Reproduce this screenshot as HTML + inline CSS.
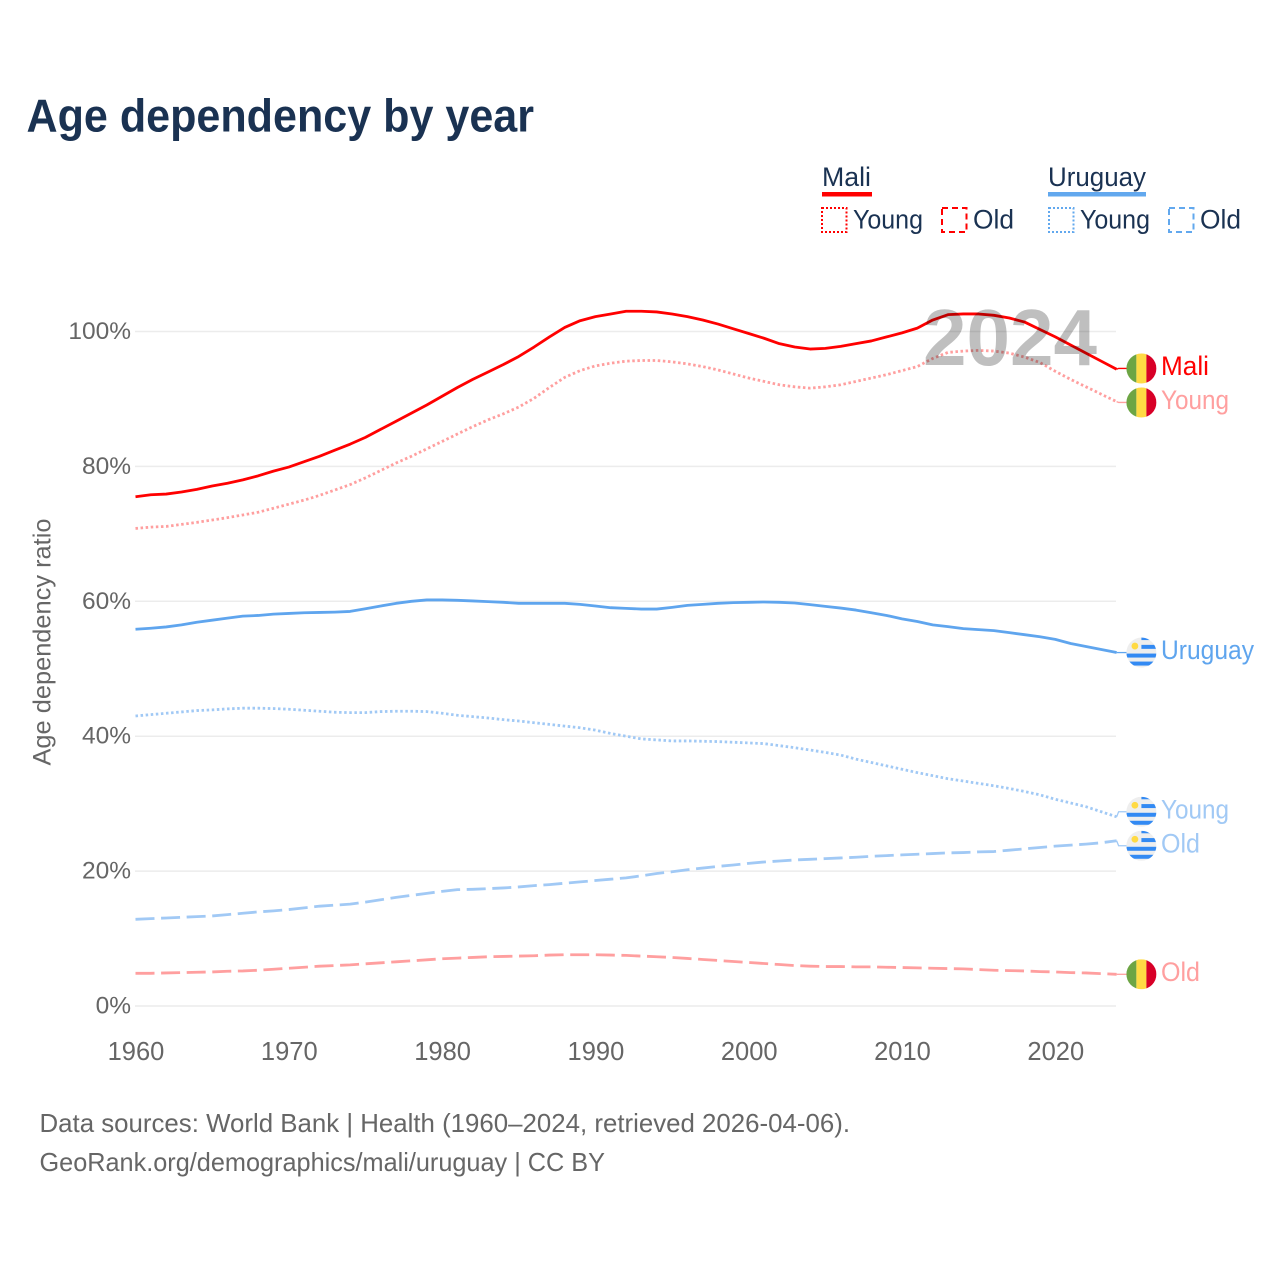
<!DOCTYPE html>
<html lang="en">
<head>
<meta charset="utf-8">
<title>Age dependency by year</title>
<style>
  html, body { margin: 0; padding: 0; background: #fff; }
  svg { display: block; font-family: "Liberation Sans", sans-serif; }
</style>
</head>
<body>
<svg id="chart" xmlns="http://www.w3.org/2000/svg" width="1280" height="1280" viewBox="0 0 1280 1280">
  <defs>
    <clipPath id="flag-clip"><circle cx="0" cy="0" r="15"></circle></clipPath>
  </defs>
  <rect x="0" y="0" width="1280" height="1280" fill="#fff"></rect>

  <text x="26.5" y="131.5" font-size="46" font-weight="700" fill="#1a3252" textLength="507.5" lengthAdjust="spacingAndGlyphs">Age dependency by year</text>

  <g font-size="27" fill="#1a3252">
    <text x="822" y="186" textLength="49" lengthAdjust="spacingAndGlyphs">Mali</text>
    <rect x="822" y="192" width="50" height="4.5" fill="#ff0000"></rect>
    <rect x="822" y="208" width="24.5" height="24" fill="none" stroke="#ff0000" stroke-width="2" stroke-dasharray="2 2"></rect>
    <text x="853" y="228.5" textLength="70" lengthAdjust="spacingAndGlyphs">Young</text>
    <rect x="942" y="208" width="24.5" height="24" fill="none" stroke="#ff0000" stroke-width="2" stroke-dasharray="6 4"></rect>
    <text x="973" y="228.5" textLength="41" lengthAdjust="spacingAndGlyphs">Old</text>

    <text x="1048" y="186" textLength="98" lengthAdjust="spacingAndGlyphs">Uruguay</text>
    <rect x="1048" y="192" width="98" height="4.5" fill="#62a8ee"></rect>
    <rect x="1049" y="208" width="24.5" height="24" fill="none" stroke="#62a8ee" stroke-width="2" stroke-dasharray="2 2"></rect>
    <text x="1080" y="228.5" textLength="70" lengthAdjust="spacingAndGlyphs">Young</text>
    <rect x="1169" y="208" width="24.5" height="24" fill="none" stroke="#62a8ee" stroke-width="2" stroke-dasharray="6 4"></rect>
    <text x="1200" y="228.5" textLength="41" lengthAdjust="spacingAndGlyphs">Old</text>
  </g>

  <g id="grid"></g>
  <g id="y-ticks" font-size="24.5" fill="#666" text-anchor="end"></g>
  <g id="x-ticks" font-size="25.5" fill="#666" text-anchor="middle"></g>
  <text transform="translate(50.5 642) rotate(-90)" font-size="25" fill="#666" text-anchor="middle" textLength="247" lengthAdjust="spacingAndGlyphs">Age dependency ratio</text>

  <g id="lines"></g>
  <g id="end-labels"></g>

  <text x="923" y="365" font-size="80" font-weight="700" fill="#000" fill-opacity="0.25" textLength="174" lengthAdjust="spacingAndGlyphs">2024</text>

  <text x="39.5" y="1132" font-size="26" fill="#666" textLength="810.5" lengthAdjust="spacingAndGlyphs">Data sources: World Bank | Health (1960–2024, retrieved 2026-04-06).</text>
  <text x="39.5" y="1171" font-size="26" fill="#666" textLength="565.5" lengthAdjust="spacingAndGlyphs">GeoRank.org/demographics/mali/uruguay | CC BY</text>
</svg>

<script>
const years = [
  1960,1961,1962,1963,1964,1965,1966,1967,1968,1969,
  1970,1971,1972,1973,1974,1975,1976,1977,1978,1979,
  1980,1981,1982,1983,1984,1985,1986,1987,1988,1989,
  1990,1991,1992,1993,1994,1995,1996,1997,1998,1999,
  2000,2001,2002,2003,2004,2005,2006,2007,2008,2009,
  2010,2011,2012,2013,2014,2015,2016,2017,2018,2019,
  2020,2021,2022,2023,2024
];
const maliTotal = [
  75.5,75.8,75.9,76.2,76.6,77.1,77.5,78.0,78.6,79.3,
  79.9,80.7,81.5,82.4,83.3,84.3,85.5,86.7,87.9,89.1,
  90.4,91.7,92.9,94.0,95.1,96.3,97.7,99.2,100.6,101.6,
  102.2,102.6,103.0,103.0,102.9,102.6,102.2,101.7,101.1,100.4,
  99.7,99.0,98.2,97.7,97.4,97.5,97.8,98.2,98.6,99.2,
  99.8,100.5,101.7,102.5,102.6,102.6,102.4,102.0,101.4,100.3,
  99.2,98.0,96.8,95.6,94.4
];
const maliYoung = [
  70.8,71.0,71.1,71.4,71.7,72.05,72.4,72.8,73.2,73.8,
  74.4,75.0,75.7,76.5,77.3,78.3,79.4,80.5,81.5,82.6,
  83.7,84.8,85.9,86.9,87.8,88.8,90.1,91.7,93.2,94.2,
  94.9,95.3,95.6,95.7,95.7,95.5,95.2,94.8,94.3,93.7,
  93.1,92.6,92.1,91.8,91.6,91.8,92.1,92.6,93.1,93.6,
  94.2,94.8,96.0,96.9,97.1,97.2,97.1,96.8,96.2,95.4,
  94.1,92.9,91.8,90.7,89.6
];
const maliOld = [
  4.85,4.85,4.9,4.95,5.0,5.05,5.15,5.2,5.3,5.45,
  5.6,5.75,5.9,6.0,6.1,6.25,6.4,6.55,6.7,6.85,
  7.0,7.1,7.2,7.3,7.35,7.4,7.45,7.55,7.6,7.6,
  7.6,7.55,7.5,7.4,7.3,7.2,7.05,6.9,6.75,6.6,
  6.45,6.3,6.15,6.0,5.9,5.85,5.85,5.8,5.8,5.75,
  5.7,5.65,5.6,5.55,5.5,5.4,5.3,5.25,5.2,5.1,
  5.05,4.95,4.9,4.8,4.7
];
const uruguayTotal = [
  55.85,56.0,56.2,56.5,56.9,57.2,57.5,57.8,57.9,58.1,
  58.2,58.3,58.35,58.4,58.5,58.9,59.3,59.7,60.0,60.2,
  60.2,60.15,60.05,59.95,59.85,59.7,59.7,59.7,59.7,59.55,
  59.3,59.05,58.95,58.85,58.85,59.1,59.4,59.55,59.7,59.8,
  59.85,59.9,59.85,59.75,59.5,59.25,59.0,58.7,58.3,57.9,
  57.4,57.0,56.5,56.25,55.95,55.8,55.65,55.35,55.05,54.75,
  54.35,53.75,53.3,52.85,52.4
];
const uruguayYoung = [
  43.0,43.2,43.4,43.6,43.8,43.9,44.05,44.15,44.15,44.1,
  44.0,43.85,43.7,43.55,43.5,43.5,43.65,43.7,43.7,43.65,
  43.4,43.1,42.9,42.7,42.45,42.25,42.0,41.75,41.5,41.25,
  40.9,40.4,40.0,39.6,39.45,39.3,39.3,39.25,39.2,39.1,
  39.0,38.9,38.6,38.3,37.95,37.6,37.2,36.6,36.1,35.6,
  35.1,34.6,34.15,33.7,33.35,33.0,32.65,32.25,31.8,31.3,
  30.65,30.1,29.55,28.8,28.05
];
const uruguayOld = [
  12.85,12.95,13.05,13.15,13.25,13.35,13.55,13.75,13.95,14.1,
  14.3,14.55,14.8,14.95,15.1,15.4,15.75,16.1,16.4,16.7,
  17.0,17.25,17.3,17.4,17.5,17.65,17.85,18.0,18.2,18.4,
  18.6,18.8,19.0,19.3,19.65,19.9,20.2,20.45,20.7,20.9,
  21.15,21.35,21.5,21.65,21.75,21.85,21.95,22.05,22.2,22.3,
  22.4,22.5,22.6,22.7,22.75,22.85,22.9,23.1,23.3,23.5,
  23.7,23.85,24.0,24.2,24.5
];
const yTickValues = [0, 20, 40, 60, 80, 100];
const yTickLabels = ["0%", "20%", "40%", "60%", "80%", "100%"];
const xTickValues = [1960, 1970, 1980, 1990, 2000, 2010, 2020];
const xTickLabels = ["1960", "1970", "1980", "1990", "2000", "2010", "2020"];

const NS = "http://www.w3.org/2000/svg";
const xScale = function (year) { return 135.5 + (year - 1960) * 15.33; };
const yScale = function (value) { return 1006 - value * 6.745; };

function make(tag, parent) {
  const el = document.createElementNS(NS, tag);
  parent.appendChild(el);
  return el;
}

const gridGroup = document.getElementById("grid");
const yTickGroup = document.getElementById("y-ticks");
yTickValues.forEach(function (v, i) {
  const line = make("line", gridGroup);
  
  
  line.setAttribute("x1", 135);
  line.setAttribute("x2", 1116);
  line.setAttribute("y1", yScale(v));
  line.setAttribute("y2", yScale(v));
  line.setAttribute("stroke", "#ececec");
  line.setAttribute("stroke-width", "1.5");
  const label = make("text", yTickGroup);
  
  
  label.setAttribute("x", 131);
  label.setAttribute("y", yScale(v) + 7.5);
  label.textContent = yTickLabels[i];
});

const xTickGroup = document.getElementById("x-ticks");
xTickValues.forEach(function (v, i) {
  const label = make("text", xTickGroup);
  
  
  label.setAttribute("x", xScale(v) + 0.5);
  label.setAttribute("y", 1060);
  label.textContent = xTickLabels[i];
});

const seriesList = [
  { key: "mali-old", label: "Old", country: "mali", values: maliOld, color: "#ff9f9f", dash: "19 6.6", width: 2.8, labelWidth: 39 },
  { key: "uruguay-old", label: "Old", country: "uruguay", values: uruguayOld, color: "#a1c9f5", dash: "19 6.6", width: 2.8, labelWidth: 39 },
  { key: "uruguay-young", label: "Young", country: "uruguay", values: uruguayYoung, color: "#a1c9f5", dash: "2.5 2.6", width: 2.8, labelWidth: 68 },
  { key: "uruguay-total", label: "Uruguay", country: "uruguay", values: uruguayTotal, color: "#5fa5ee", dash: "", width: 2.8, labelWidth: 93 },
  { key: "mali-young", label: "Young", country: "mali", values: maliYoung, color: "#ff9f9f", dash: "2.5 2.6", width: 2.8, labelWidth: 68 },
  { key: "mali-total", label: "Mali", country: "mali", values: maliTotal, color: "#ff0000", dash: "", width: 2.8, labelWidth: 48 }
];

/* Label placement: start at the last data value and push neighbours apart. */
const MIN_GAP = 34;
const placed = seriesList.map(function (s) {
  return { series: s, endY: yScale(s.values[s.values.length - 1]), y: yScale(s.values[s.values.length - 1]) };
}).sort(function (a, b) { return a.endY - b.endY; });
for (let pass = 0; pass < 10; pass++) {
  for (let i = 0; i < placed.length - 1; i++) {
    const gap = placed[i + 1].y - placed[i].y;
    if (gap < MIN_GAP) {
      const shift = (MIN_GAP - gap) / 2;
      placed[i].y -= shift;
      placed[i + 1].y += shift;
    }
  }
}

const lineGroup = document.getElementById("lines");
seriesList.forEach(function (s) {
  const path = make("path", lineGroup);
  
  
  path.setAttribute("data-series", s.key);
  path.setAttribute("fill", "none");
  path.setAttribute("stroke", s.color);
  path.setAttribute("stroke-width", s.width);
  path.setAttribute("stroke-linejoin", "round");
  if (s.dash) { path.setAttribute("stroke-dasharray", s.dash); }
  const d = s.values.map(function (v, i) {
    return (i ? "L" : "M") + xScale(years[i]).toFixed(2) + " " + yScale(v).toFixed(2);
  }).join(" ");
  path.setAttribute("d", d);
});

function drawMaliFlag(g) {
  const green = make("rect", g);
  
  
  green.setAttribute("x", -15); green.setAttribute("y", -15);
  green.setAttribute("width", 10); green.setAttribute("height", 30);
  green.setAttribute("fill", "#6da544");
  const yellow = make("rect", g);
  
  
  yellow.setAttribute("x", -5); yellow.setAttribute("y", -15);
  yellow.setAttribute("width", 10); yellow.setAttribute("height", 30);
  yellow.setAttribute("fill", "#ffda44");
  const red = make("rect", g);
  
  
  red.setAttribute("x", 5); red.setAttribute("y", -15);
  red.setAttribute("width", 10); red.setAttribute("height", 30);
  red.setAttribute("fill", "#d80027");
}

function drawUruguayFlag(g) {
  const base = make("rect", g);
  
  
  base.setAttribute("x", -15); base.setAttribute("y", -15);
  base.setAttribute("width", 30); base.setAttribute("height", 30);
  base.setAttribute("fill", "#eeeeee");
  [[0, -15, 15, 2.5], [0, -7.7, 15, 4], [-15, 1, 30, 4], [-15, 9, 30, 4]].forEach(function (b) {
    const stripe = make("rect", g);
    
    
    stripe.setAttribute("x", b[0]); stripe.setAttribute("y", b[1]);
    stripe.setAttribute("width", b[2]); stripe.setAttribute("height", b[3]);
    stripe.setAttribute("fill", "#338af3");
  });
  const sun = make("circle", g);
  
  
  sun.setAttribute("cx", -6.5); sun.setAttribute("cy", -6.5); sun.setAttribute("r", 3.4);
  sun.setAttribute("fill", "#ffda44");
}

const endGroup = document.getElementById("end-labels");
placed.forEach(function (p) {
  const s = p.series;
  const endX = xScale(years[years.length - 1]);

  const connector = make("polyline", endGroup);
  
  
  connector.setAttribute("fill", "none");
  connector.setAttribute("stroke", s.color);
  connector.setAttribute("stroke-width", "1.3");
  connector.setAttribute("points", endX + "," + p.endY + " " + (endX + 2) + "," + p.y + " 1127," + p.y);

  const wrap = make("g", endGroup);
  
  
  wrap.setAttribute("transform", "translate(1141.4 " + p.y + ")");
  const clipped = make("g", wrap);
  
  
  clipped.setAttribute("clip-path", "url(#flag-clip)");
  if (s.country === "mali") { drawMaliFlag(clipped); } else { drawUruguayFlag(clipped); }

  const label = make("text", endGroup);
  
  
  label.setAttribute("x", 1161);
  label.setAttribute("y", p.y + 6.5);
  label.setAttribute("font-size", "27");
  label.setAttribute("fill", s.color);
  label.setAttribute("textLength", s.labelWidth);
  label.setAttribute("lengthAdjust", "spacingAndGlyphs");
  label.textContent = s.label;
});
</script>
</body>
</html>
